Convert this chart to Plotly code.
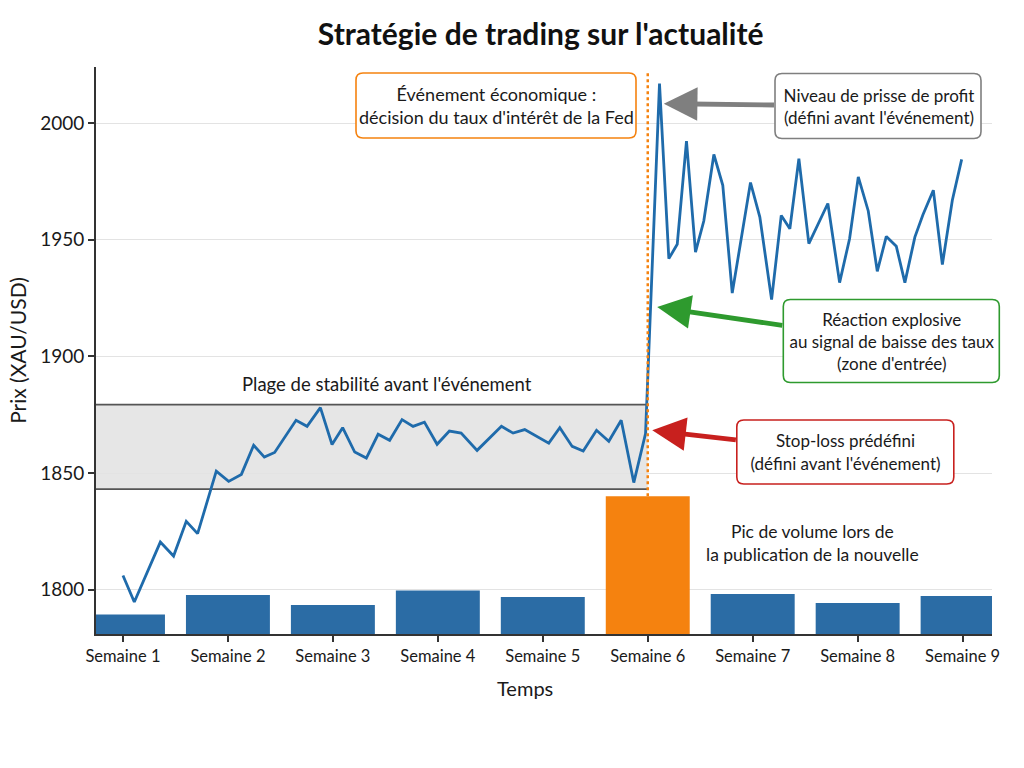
import plotly.graph_objects as go

# ---------------- data ----------------
weeks = ["Semaine 1", "Semaine 2", "Semaine 3", "Semaine 4", "Semaine 5",
         "Semaine 6", "Semaine 7", "Semaine 8", "Semaine 9"]
week_pos = [0, 1, 2, 3, 4, 5, 6, 7, 8]
volume_top = [1789.4, 1797.7, 1793.4, 1799.6, 1796.9, 1840.0, 1798.1, 1794.3, 1797.3]

price_t = [0.0, 0.108, 0.356, 0.482, 0.603, 0.711, 0.889, 1.007, 1.128, 1.245,
           1.347, 1.445, 1.649, 1.754, 1.881, 1.992, 2.093, 2.208, 2.319, 2.431,
           2.541, 2.659, 2.764, 2.872, 2.993, 3.110, 3.222, 3.374, 3.606, 3.717,
           3.828, 4.057, 4.162, 4.280, 4.385, 4.512, 4.629, 4.747, 4.867, 4.979,
           5.112, 5.201, 5.281, 5.369, 5.455, 5.534, 5.630, 5.715, 5.805, 5.979,
           6.068, 6.180, 6.272, 6.354, 6.440, 6.535, 6.716, 6.828, 6.923, 7.006,
           7.101, 7.187, 7.273, 7.368, 7.450, 7.545, 7.622, 7.721, 7.807, 7.902,
           7.991]
price = [1806.1, 1794.7, 1820.4, 1814.4, 1829.3, 1824.0, 1850.8, 1846.4, 1849.4, 1861.9,
         1856.8, 1858.8, 1872.6, 1870.0, 1878.0, 1862.2, 1869.4, 1859.0, 1856.4, 1866.6,
         1864.0, 1872.9, 1870.0, 1871.8, 1862.3, 1868.0, 1867.1, 1859.7, 1870.0, 1867.1,
         1868.6, 1862.8, 1869.4, 1861.4, 1859.4, 1868.3, 1863.6, 1872.6, 1845.9, 1866.9,
         2016.9, 1941.9, 1948.0, 1992.2, 1944.7, 1958.0, 1986.5, 1973.3, 1927.1, 1974.5,
         1959.7, 1924.3, 1960.4, 1954.7, 1984.7, 1948.3, 1965.5, 1931.6, 1950.4, 1976.9,
         1962.3, 1936.4, 1951.4, 1947.2, 1931.6, 1951.1, 1960.7, 1971.2, 1939.3, 1966.9,
         1984.4]

y_ticks = [1800, 1850, 1900, 1950, 2000]
y_min, y_max = 1781, 2024
x_min, x_max = -0.257, 8.28
event_week = 5
band_low, band_high = 1843.1, 1879.3

BLUE = "#2b6ca5"
LINE_BLUE = "#1f6bab"
ORANGE = "#f5820f"
GREEN = "#2e9a2e"
RED = "#c8201e"
GRAY = "#7f7f7f"
TXT = "#1a1a1a"
FONT = "Lato"

fig = go.Figure()

fig.add_trace(go.Bar(
    x=week_pos, y=[v - y_min for v in volume_top], base=y_min,
    width=0.8,
    marker=dict(color=[ORANGE if i == event_week else BLUE for i in week_pos], line=dict(width=0)),
    hoverinfo="skip",
))

fig.add_trace(go.Scatter(
    x=price_t, y=price, mode="lines",
    line=dict(color=LINE_BLUE, width=2.8),
))

shapes = []
# stability band
shapes.append(dict(type="rect", xref="x", yref="y", x0=x_min, x1=event_week,
                   y0=band_low, y1=band_high, fillcolor="#e6e6e6",
                   line=dict(width=0), layer="below"))
for yv in (band_low, band_high):
    shapes.append(dict(type="line", xref="x", yref="y", x0=x_min, x1=event_week,
                       y0=yv, y1=yv, line=dict(color="#555555", width=1.8), layer="below"))
# event line
shapes.append(dict(type="line", xref="x", yref="y", x0=event_week, x1=event_week,
                   y0=volume_top[event_week], y1=2021.7,
                   line=dict(color=ORANGE, width=2.5, dash="dot"), layer="above"))

# plot area in pixels for paper conversion
L, R, T, B = 96, 992, 67, 634


def px_to_paper(px, py):
    return (px - L) / (R - L), (B - py) / (B - T)


def rounded_box(cx, cy, w, h, color, r=7):
    a, b = w / 2, h / 2
    path = (f"M {-a + r},{-b} L {a - r},{-b} Q {a},{-b} {a},{-b + r} "
            f"L {a},{b - r} Q {a},{b} {a - r},{b} L {-a + r},{b} Q {-a},{b} {-a},{b - r} "
            f"L {-a},{-b + r} Q {-a},{-b} {-a + r},{-b} Z")
    xa, ya = px_to_paper(cx, cy)
    return dict(type="path", xref="paper", yref="paper", xsizemode="pixel", ysizemode="pixel",
                xanchor=xa, yanchor=ya, path=path, fillcolor="white",
                line=dict(color=color, width=1.6), layer="above")


shapes.append(rounded_box(496, 105.5, 280, 65, ORANGE))
shapes.append(rounded_box(878, 106, 206, 65, GRAY))
shapes.append(rounded_box(891.3, 341, 216, 83, GREEN))
shapes.append(rounded_box(845.3, 452, 217, 64, RED))

annotations = []
tf = dict(family=FONT, size=17, color=TXT)

ox, oy = px_to_paper(496, 105.5)
annotations.append(dict(xref="paper", yref="paper", x=ox, y=oy, xanchor="center", yanchor="middle",
                        text="Événement économique :<br>décision du taux d'intérêt de la Fed",
                        showarrow=False, font=dict(family=FONT, size=18, color=TXT), align="center"))


def arrow_note(text, tip_x, tip_y, ax, ay, color, w, h):
    return dict(x=tip_x, y=tip_y, xref="x", yref="y", ax=ax, ay=ay,
                text=text, showarrow=True, arrowhead=2, arrowsize=1.4, arrowwidth=4.8,
                arrowcolor=color, standoff=0, startstandoff=0,
                width=w, height=h, font=tf, align="center")


annotations.append(arrow_note("Niveau de prisse de profit<br>(défini avant l'événement)",
                              5.153, 2008.3, 214.7, 2.7, GRAY, 206, 65))
annotations.append(arrow_note("Réaction explosive<br>au signal de baisse des taux<br>(zone d'entrée)",
                              5.090, 1921.1, 234.6, 34.3, GREEN, 216, 83))
annotations.append(arrow_note("Stop-loss prédéfini<br>(défini avant l'événement)",
                              5.043, 1868.3, 193.6, 22, RED, 217, 64))

annotations.append(dict(x=2.519, y=1888, xref="x", yref="y",
                        text="Plage de stabilité avant l'événement",
                        showarrow=False, font=dict(family=FONT, size=18.5, color=TXT)))
annotations.append(dict(x=6.568, y=1819.9, xref="x", yref="y",
                        text="Pic de volume lors de<br>la publication de la nouvelle",
                        showarrow=False, font=dict(family=FONT, size=17.5, color=TXT)))

# x-axis title as annotation (slightly left of plot centre in the reference)
annotations.append(dict(xref="paper", yref="paper", x=px_to_paper(525, 688)[0],
                        y=px_to_paper(525, 688)[1], xanchor="center", yanchor="middle",
                        text="Temps", showarrow=False, font=dict(family=FONT, size=20, color=TXT)))

fig.update_layout(
    width=1024, height=768,
    margin=dict(l=L, r=1024 - R, t=T, b=768 - B),
    paper_bgcolor="white", plot_bgcolor="white",
    showlegend=False,
    title=dict(text="<b>Stratégie de trading sur l'actualité</b>", x=0.528, xanchor="center",
               y=0.955, yanchor="middle",
               font=dict(family=FONT, size=30, color="#111111")),
    font=dict(family=FONT, size=17, color=TXT),
    shapes=shapes, annotations=annotations,
    bargap=0.2,
)
fig.update_xaxes(range=[x_min, x_max], tickvals=week_pos, ticktext=weeks,
                 ticks="outside", ticklen=6, tickwidth=1.5, tickcolor="#333333",
                 showline=True, linecolor="#333333", linewidth=1.8, showgrid=False,
                 zeroline=False, tickfont=dict(size=16.5, color=TXT))
fig.update_yaxes(range=[y_min, y_max], tickvals=y_ticks,
                 ticks="outside", ticklen=6, tickwidth=1.5, tickcolor="#333333",
                 showline=True, linecolor="#333333", linewidth=1.8,
                 showgrid=True, gridcolor="#e3e3e3", gridwidth=1, zeroline=False,
                 tickfont=dict(size=19, color=TXT),
                 title=dict(text="Prix (XAU/USD)", font=dict(size=21, color=TXT), standoff=8))

fig.write_html("out.html")
